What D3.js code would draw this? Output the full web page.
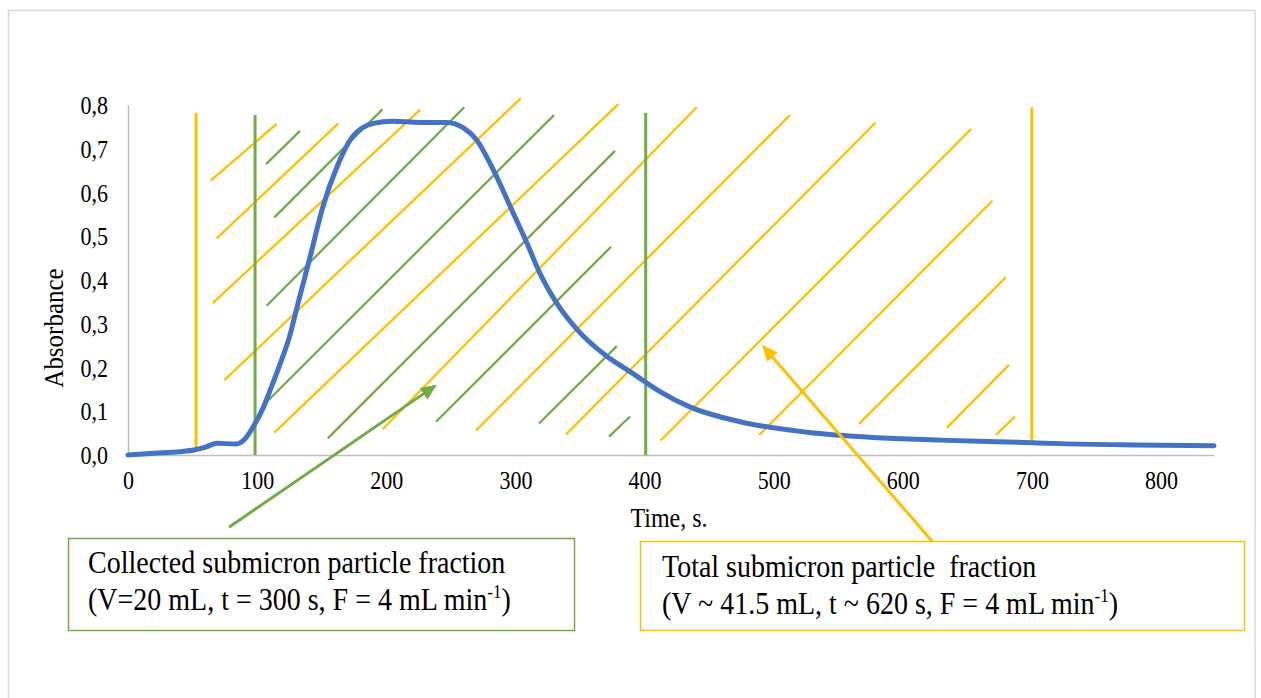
<!DOCTYPE html>
<html>
<head>
<meta charset="utf-8">
<script src="https://cdn.jsdelivr.net/npm/d3@7"></script>
<style>
  body { margin: 0; background: #fff; }
  text { font-family: "Liberation Serif", "Times New Roman", serif; fill: #000; }
</style>
</head>
<body>
<svg id="chart" width="1261" height="698"></svg>
<script>
// Absorbance trace of the eluting submicron fraction
const timeS = [0, 20, 40, 52, 60, 69, 83, 90, 97, 105, 111, 118, 125, 131, 141, 151, 162, 174, 190, 205,
  226, 247, 260, 270, 283, 296, 309, 319, 332, 348, 371, 389, 400, 412, 435, 474, 526, 577, 629, 700, 722, 780, 841];
const absorbance = [0.000, 0.004, 0.0075, 0.012, 0.018, 0.027, 0.025, 0.035, 0.065, 0.11, 0.155, 0.21, 0.27, 0.339,
  0.453, 0.568, 0.66, 0.728, 0.758, 0.763, 0.76, 0.76, 0.747, 0.72, 0.651, 0.568, 0.484, 0.415, 0.347, 0.286, 0.225,
  0.19, 0.168, 0.145, 0.11, 0.076, 0.052, 0.04, 0.034, 0.028, 0.026, 0.023, 0.021];

const xTicks = [0, 100, 200, 300, 400, 500, 600, 700, 800];
const yTicks = [0, 0.1, 0.2, 0.3, 0.4, 0.5, 0.6, 0.7, 0.8];
const yTickLabels = ["0,0", "0,1", "0,2", "0,3", "0,4", "0,5", "0,6", "0,7", "0,8"];

// Fraction boundaries: [time, absorbance bottom, absorbance top]
const totalBounds = [[52.7, 0.011, 0.782], [699.9, 0.023, 0.795]];
const collectedBounds = [[98.4, 0.0, 0.777], [400.9, 0.0, 0.782]];

// Hatch strokes: [t1, a1, t2, a2]
const totalHatch = [
  [64.0, 0.627, 115.2, 0.757], [68.7, 0.495, 162.9, 0.758], [65.6, 0.347, 226.1, 0.789],
  [74.6, 0.171, 304.1, 0.815], [113.3, 0.051, 379.7, 0.802], [197.2, 0.059, 440.4, 0.795],
  [269.5, 0.056, 512.7, 0.777], [339.2, 0.047, 579.0, 0.760], [412.5, 0.033, 652.9, 0.745],
  [488.9, 0.046, 669.4, 0.581], [566.1, 0.071, 679.7, 0.406], [634.0, 0.062, 682.3, 0.206],
  [672.2, 0.046, 686.9, 0.088]
];
const collectedHatch = [
  [106.9, 0.665, 133.2, 0.741], [113.3, 0.543, 197.0, 0.790], [107.4, 0.341, 260.4, 0.795],
  [106.9, 0.120, 329.9, 0.777], [154.7, 0.038, 377.2, 0.695], [238.5, 0.076, 374.1, 0.476],
  [318.3, 0.072, 378.5, 0.249], [372.5, 0.042, 388.8, 0.088]
];

// Callout arrows: [tail t, tail a, tip t, tip a]
const collectedArrow = [78.2, -0.165, 237.8, 0.158];
const totalArrow = [622.7, -0.197, 492.0, 0.248];

const collectedText = ["Collected submicron particle fraction", "(V=20 mL, t = 300 s, F = 4 mL min", "-1", ")"];
const totalText = ["Total submicron particle  fraction", "(V ~ 41.5 mL, t ~ 620 s, F = 4 mL min", "-1", ")"];

const BLUE = "#4472C4", YELLOW = "#FFC000", GREEN = "#70AD47", AXIS = "#BFBFBF";

const svg = d3.select("#chart");
svg.append("rect").attr("width", 1261).attr("height", 698).attr("fill", "#fff");
// chart frame
svg.append("rect").attr("x", 8.5).attr("y", 10.5).attr("width", 1246.5).attr("height", 720)
  .attr("fill", "none").attr("stroke", "#D9D9D9").attr("stroke-width", 1.5);

const x = d3.scaleLinear().domain([0, 841]).range([128, 1214]);
const y = d3.scaleLinear().domain([0, 0.8]).range([455, 105]);

// axes
const xAxis = svg.append("g").attr("transform", `translate(0,${y(0)})`)
  .call(d3.axisBottom(x).tickValues(xTicks).tickSize(0).tickFormat(d3.format("d")));
xAxis.select(".domain").attr("stroke", AXIS).attr("stroke-width", 1.5);
xAxis.selectAll("text").attr("y", 0).attr("dy", 0).attr("transform", "translate(0,34) scale(1,1.15)")
  .style("font-size", "22px").style("font-family", "Liberation Serif").attr("fill", "#000");

const yAxis = svg.append("g").attr("transform", `translate(${x(0)},0)`)
  .call(d3.axisLeft(y).tickValues(yTicks).tickSize(0).tickFormat((d, i) => yTickLabels[i]));
yAxis.select(".domain").attr("stroke", AXIS).attr("stroke-width", 1.5);
yAxis.selectAll("text").attr("x", 0).attr("dy", 0).attr("y", 0)
  .attr("transform", "translate(-20,8.5) scale(1,1.15)")
  .style("font-size", "22px").style("font-family", "Liberation Serif").attr("fill", "#000");

svg.append("text").attr("transform", "translate(669,527) scale(1,1.1)").attr("text-anchor", "middle")
  .style("font-size", "24px").text("Time, s.");
svg.append("text").attr("transform", "translate(63,328) rotate(-90) scale(1,1.1)").attr("text-anchor", "middle")
  .style("font-size", "25px").text("Absorbance");

// hatching
const plot = svg.append("g");
plot.selectAll("line.th").data(totalHatch).join("line").attr("class", "th")
  .attr("x1", d => x(d[0])).attr("y1", d => y(d[1])).attr("x2", d => x(d[2])).attr("y2", d => y(d[3]))
  .attr("stroke", YELLOW).attr("stroke-width", 2.3);
plot.selectAll("line.ch").data(collectedHatch).join("line").attr("class", "ch")
  .attr("x1", d => x(d[0])).attr("y1", d => y(d[1])).attr("x2", d => x(d[2])).attr("y2", d => y(d[3]))
  .attr("stroke", GREEN).attr("stroke-width", 2.3);

// boundaries
plot.selectAll("line.tb").data(totalBounds).join("line").attr("class", "tb")
  .attr("x1", d => x(d[0])).attr("x2", d => x(d[0])).attr("y1", d => y(d[1])).attr("y2", d => y(d[2]))
  .attr("stroke", YELLOW).attr("stroke-width", 3);
plot.selectAll("line.cb").data(collectedBounds).join("line").attr("class", "cb")
  .attr("x1", d => x(d[0])).attr("x2", d => x(d[0])).attr("y1", d => y(d[1])).attr("y2", d => y(d[2]))
  .attr("stroke", GREEN).attr("stroke-width", 3);

// absorbance curve
const pts = timeS.map((t, i) => [t, absorbance[i]]);
svg.append("path").datum(pts)
  .attr("d", d3.line().x(d => x(d[0])).y(d => y(d[1])).curve(d3.curveMonotoneX))
  .attr("fill", "none").attr("stroke", BLUE).attr("stroke-width", 5).attr("stroke-linecap", "round");

// arrow heads
const defs = svg.append("defs");
[["headG", GREEN], ["headY", YELLOW]].forEach(([id, c]) => {
  defs.append("marker").attr("id", id).attr("viewBox", "0 0 16 14").attr("refX", 14).attr("refY", 7)
    .attr("markerWidth", 16).attr("markerHeight", 14).attr("markerUnits", "userSpaceOnUse")
    .attr("orient", "auto")
    .append("path").attr("d", "M0,0 L16,7 L0,14 Z").attr("fill", c);
});
function arrow(a, color, head) {
  svg.append("line").attr("x1", x(a[0])).attr("y1", y(a[1])).attr("x2", x(a[2])).attr("y2", y(a[3]))
    .attr("stroke", color).attr("stroke-width", 3).attr("marker-end", `url(#${head})`);
}
arrow(collectedArrow, GREEN, "headG");
arrow(totalArrow, YELLOW, "headY");

// callout boxes
function callout(bx, by, bw, bh, color, lines, tx, base1) {
  svg.append("rect").attr("x", bx).attr("y", by).attr("width", bw).attr("height", bh)
    .attr("fill", "#fff").attr("stroke", color).attr("stroke-width", 1.5);
  svg.append("text").attr("transform", `translate(${tx},${base1}) scale(1,1.1)`).style("font-size", "28px")
    .style("white-space", "pre").attr("xml:space", "preserve").text(lines[0]);
  const t2 = svg.append("text").attr("transform", `translate(${tx},${base1 + 37}) scale(1,1.1)`)
    .style("font-size", "28px");
  t2.append("tspan").text(lines[1]);
  t2.append("tspan").attr("dy", -11).style("font-size", "17px").text(lines[2]);
  t2.append("tspan").attr("dy", 11).text(lines[3]);
}
callout(68.5, 538.5, 506, 92, GREEN, collectedText, 88, 573);
callout(640.5, 541.5, 604, 89, YELLOW, totalText, 662, 577);
</script>
</body>
</html>
